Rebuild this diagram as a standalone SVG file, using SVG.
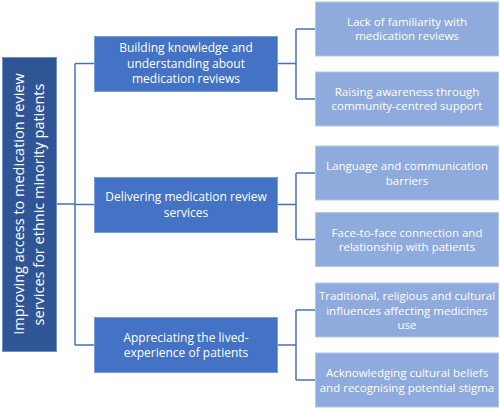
<svg xmlns="http://www.w3.org/2000/svg" width="500" height="409" viewBox="0 0 500 409">
<style>
.root{fill:#2F5597;stroke:#6F8FCB;stroke-width:1}
.l1{fill:#4472C4;stroke:#7E9DD8;stroke-width:1}
.l2{fill:#8FAADC;stroke:#B4C7E7;stroke-width:1}
.t{font-family:"Open Sans","Liberation Sans",sans-serif;fill:#FFFFFF;text-anchor:middle}
.t1{font-size:12px}
.t2{font-size:11.5px}
.tr{font-size:14.5px}
.c{fill:none;stroke:#4A72BC;stroke-width:1.5}
</style>
<rect width="500" height="409" fill="#FFFFFF"/>
<g id="connectors">
<path class="c" d="M56,204 H75 M75,63.5 V345 M75,63.5 H94 M75,204.5 H94 M75,345 H94"/>
<path class="c" d="M277,63.5 H296 M296,29 V99 M296,29 H315 M296,99 H315"/>
<path class="c" d="M277,204.5 H296 M296,173 V239.5 M296,173 H315 M296,239.5 H315"/>
<path class="c" d="M277,345 H296 M296,310 V380 M296,310 H315 M296,380 H315"/>
</g>
<g id="root">
<rect class="root" x="2.5" y="57.5" width="54" height="294"/>
<text class="t tr" transform="translate(24,204) rotate(-90)">Improving access to medication review</text>
<text class="t tr" transform="translate(43.5,204.5) rotate(-90)">services for ethnic minority patients</text>
</g>
<g id="n1">
<rect class="l1" x="94.5" y="36.5" width="183" height="55"/>
<text class="t t1" x="186" y="52">Building knowledge and</text>
<text class="t t1" x="186" y="67.5">understanding about</text>
<text class="t t1" x="186" y="83">medication reviews</text>
</g>
<g id="n2">
<rect class="l1" x="94.5" y="177.5" width="183" height="55"/>
<text class="t t1" x="186" y="201">Delivering medication review</text>
<text class="t t1" x="186" y="216.5">services</text>
</g>
<g id="n3">
<rect class="l1" x="94.5" y="317.5" width="183" height="55"/>
<text class="t t1" x="186" y="341.5">Appreciating the lived-</text>
<text class="t t1" x="186" y="357">experience of patients</text>
</g>
<g id="n1a">
<rect class="l2" x="315.5" y="2" width="183" height="54"/>
<text class="t t2" x="407" y="26">Lack of familiarity with</text>
<text class="t t2" x="407" y="40">medication reviews</text>
</g>
<g id="n1b">
<rect class="l2" x="315.5" y="72" width="183" height="54"/>
<text class="t t2" x="407" y="95.5">Raising awareness through</text>
<text class="t t2" x="407" y="110">community-centred support</text>
</g>
<g id="n2a">
<rect class="l2" x="315.5" y="146" width="183" height="54"/>
<text class="t t2" x="407" y="170">Language and communication</text>
<text class="t t2" x="407" y="184.5">barriers</text>
</g>
<g id="n2b">
<rect class="l2" x="315.5" y="212.5" width="183" height="54"/>
<text class="t t2" x="407" y="236.5">Face-to-face connection and</text>
<text class="t t2" x="407" y="251">relationship with patients</text>
</g>
<g id="n3a">
<rect class="l2" x="315.5" y="283" width="183" height="54"/>
<text class="t t2" x="407" y="300">Traditional, religious and cultural</text>
<text class="t t2" x="407" y="314.5">influences affecting medicines</text>
<text class="t t2" x="407" y="328.5">use</text>
</g>
<g id="n3b">
<rect class="l2" x="315.5" y="353" width="183" height="54"/>
<text class="t t2" x="407" y="377">Acknowledging cultural beliefs</text>
<text class="t t2" x="407" y="391.5">and recognising potential stigma</text>
</g>
</svg>
